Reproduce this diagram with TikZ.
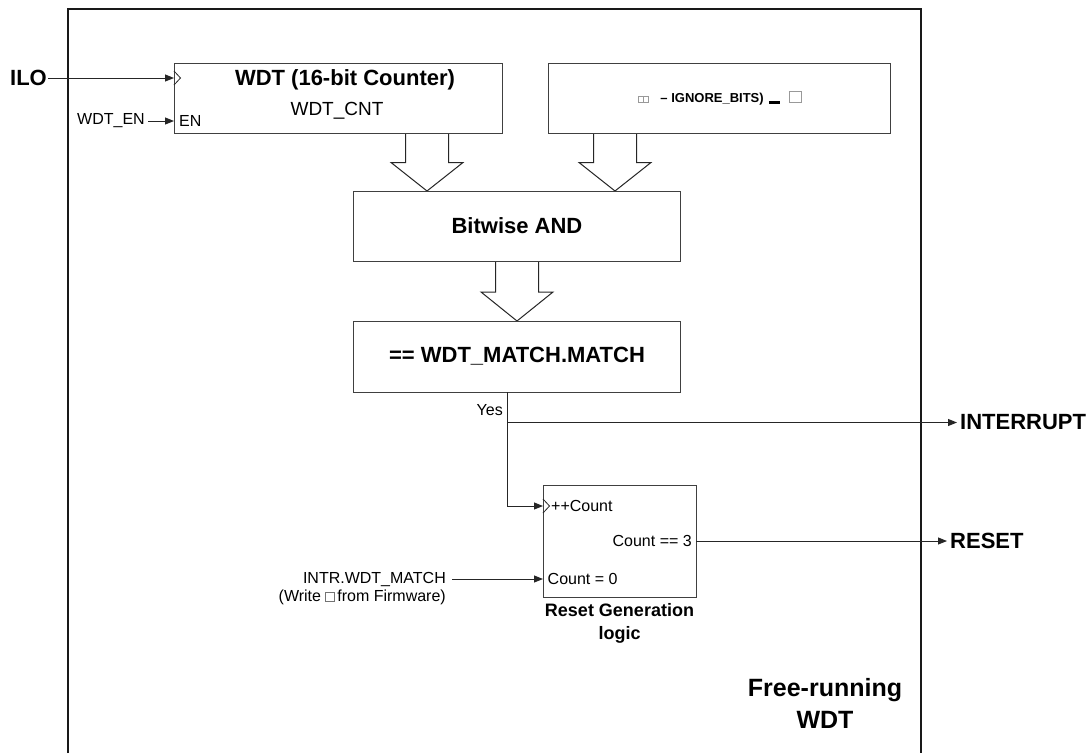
\documentclass[tikz,border=0pt]{standalone}
\usepackage{fontspec}
\setmainfont{Liberation Sans}
\usetikzlibrary{arrows.meta}
\newcommand\gboxbig{{\color{black!40}\setlength\fboxrule{0.6pt}\setlength\fboxsep{0pt}\fbox{\rule{0pt}{11pt}\hspace{12pt}}}}
\newcommand\gboxsmall{{\color{black!40}\setlength\fboxrule{0.6pt}\setlength\fboxsep{0pt}\fbox{\rule{0pt}{6pt}\hspace{4pt}}\fbox{\rule{0pt}{6pt}\hspace{4pt}}}}
\newcommand\gboxtxt{{\color{black!55}\setlength\fboxrule{0.6pt}\setlength\fboxsep{0pt}\fbox{\rule{0pt}{9pt}\hspace{8pt}}}}
\newcommand\fatarrow[4]{\draw[hollow] (#1-21.5,#2) -- (#1-21.5,#3) -- (#1-36,#3) -- (#1,#4) -- (#1+36,#3) -- (#1+21.5,#3) -- (#1+21.5,#2);}
\tikzset{
 box/.style={draw=black!75, line width=1pt, inner sep=0pt},
 frameline/.style={draw=black!90, line width=1.3pt},
 wire/.style={draw=black!85, line width=1pt},
 arr/.style={wire, -{Triangle[length=9pt,width=7pt]}},
 chev/.style={draw=black!85, line width=0.8pt},
 hollow/.style={draw=black!85, line width=1pt, line join=miter},
 lab/.style={inner sep=0pt, font=\fontsize{16}{18}\selectfont},
 blab/.style={inner sep=0pt, font=\fontsize{22}{26}\selectfont\bfseries},
}
\begin{document}
\begin{tikzpicture}[x=1pt,y=-1pt]
\useasboundingbox (0,0) rectangle (1090,753);
\fill[white] (0,0) rectangle (1090,753);
% outer frame
\draw[frameline] (68,753) -- (68,9) -- (921,9) -- (921,753);

% hollow arrows
\fatarrow{427}{133}{162.5}{191}
\fatarrow{615}{133}{162.5}{191}
\fatarrow{517}{261}{292}{321}

% boxes
\node[box, minimum width=328pt, minimum height=70pt] (wdt) at (338,98) {};
\node[box, minimum width=342pt, minimum height=70pt] (ign) at (719,98) {};
\node[box, minimum width=327pt, minimum height=70pt] (and) at (516.5,226) {};
\node[box, minimum width=327pt, minimum height=71pt] (match) at (516.5,356.5) {};
\node[box, minimum width=153pt, minimum height=112pt] (rst) at (619.5,541) {};

% WDT box texts
\node[blab] (wdttitle) at (345,80) {WDT (16-bit Counter)};
\node[lab, font=\fontsize{19}{22}\selectfont] (wdtcnt) at (337,111) {WDT\_CNT};
\node[lab, anchor=west] (en) at (179,121) {EN};
\node[lab, anchor=east] (wdten) at (145,121) {WDT\_EN};
\node[blab, anchor=east] (ilo) at (47,78) {ILO};
\coordinate (clk) at (174,78);
\draw[arr] ([xshift=1pt]ilo.east) -- (clk);
\draw[chev] (174,71) -- (180.5,78) -- (174,85);
\coordinate (enin) at (174,121);
\draw[arr] ([xshift=3pt]wdten.east) -- (enin);

% ignore bits box text
\node[inner sep=0pt, font=\fontsize{13}{15}\selectfont\bfseries] (igntxt) at (720,98)
  {\gboxsmall\hspace{12pt}– IGNORE\_BITS)\hspace{5pt}\rule[-2pt]{11pt}{3.5pt}\hspace{9pt}\gboxbig};

% other box texts
\node[blab] (andtxt) at (517,226) {Bitwise AND};
\node[blab] (matchtxt) at (517,356) {== WDT\_MATCH.MATCH};

% Yes branch
\node[lab, anchor=east] (yes) at (503,410) {Yes};
\coordinate (ybr) at (507,392);
\coordinate (yj) at (507,422.5);
\node[blab, anchor=west] (intr) at (960,422.5) {INTERRUPT};
\draw[wire] (ybr) -- (yj);
\draw[arr] (yj) -- ([xshift=-3pt]intr.west);
\coordinate (cntin) at (543,506);
\draw[arr] (yj) |- (cntin);
\draw[chev] (543,499) -- (549.5,506) -- (543,513);

% reset block texts
\node[lab, anchor=west] (inc) at (551,506) {++Count};
\node[lab, anchor=east] (eq3) at (692,541) {Count == 3};
\node[lab, anchor=west] (clr) at (547.5,579) {Count = 0};
\node[inner sep=0pt, align=center, font=\fontsize{18}{23}\selectfont\bfseries] (rstlab) at (619.5,623) {Reset Generation\\logic};

\coordinate (rout) at (696,541);
\node[blab, anchor=west] (reset) at (950,541) {RESET};
\draw[arr] (rout) -- ([xshift=-3pt]reset.west);

\node[lab, anchor=east] (intr1) at (446,579) {INTR.WDT\_MATCH};
\node[lab, anchor=east] (intr2) at (446,597) {(Write \gboxtxt\,from Firmware)};
\coordinate (c0) at (543,579);
\draw[arr] ([xshift=6pt]intr1.east) -- (c0);

% title
\node[inner sep=0pt, align=center, font=\fontsize{25}{32}\selectfont\bfseries] (title) at (825,703) {Free-running\\WDT};
\end{tikzpicture}
\end{document}
